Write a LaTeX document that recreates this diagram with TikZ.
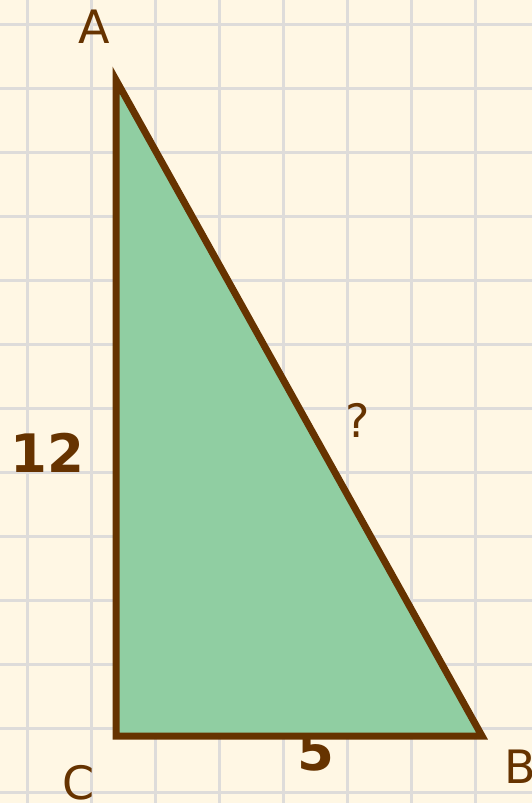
\documentclass[tikz,border=0pt]{standalone}
\usepackage{fontspec}
\setsansfont{DejaVu Sans}
\usepackage{tikz}
\usetikzlibrary{positioning}
\definecolor{paper}{RGB}{255,247,228}
\definecolor{gridgray}{RGB}{222,220,218}
\definecolor{legfill}{RGB}{144,206,162}
\definecolor{barkbrown}{RGB}{102,51,0}
\tikzset{
    gridline/.style={draw=gridgray, line width=3pt},
    tribody/.style={draw=barkbrown, fill=legfill, line width=7pt, line join=miter},
    vertlabel/.style={text=barkbrown, inner sep=0pt, font=\sffamily\fontsize{46}{50}\selectfont},
    sidelabel/.style={text=barkbrown, inner sep=0pt, font=\sffamily\bfseries\fontsize{53}{58}\selectfont}
}

\begin{document}
\begin{tikzpicture}[x=1pt, y=-1pt]

\fill[paper] (0,0) rectangle (532,803);
\useasboundingbox (0,0) rectangle (532,803);
\foreach \gx in {27,91,...,539} \draw[gridline] (\gx,0) -- (\gx,803);
\foreach \gy in {24,88,...,803} \draw[gridline] (0,\gy) -- (532,\gy);

\coordinate (A) at (116,80);
\coordinate (C) at (116,736);
\coordinate (B) at (482,736);

\node[sidelabel] (legb) at (316,752) {5};
\draw[tribody] (A) -- (B) -- (C) -- cycle;

\node[vertlabel] (labA) at (94,27) {A};
\node[vertlabel] (labC) at (79,783) {C};
\node[vertlabel] (labB) at (520,767) {B};
\node[sidelabel] (lega) at (47,453) {12};
\node[vertlabel] (hyp) at (358,420) {?};

\end{tikzpicture}
\end{document}
